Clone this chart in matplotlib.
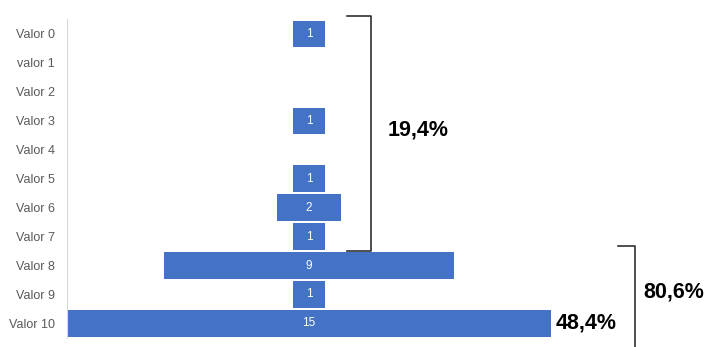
import numpy as np
import matplotlib.pyplot as plt

labels = ["Valor 0", "valor 1", "Valor 2", "Valor 3", "Valor 4", "Valor 5",
          "Valor 6", "Valor 7", "Valor 8", "Valor 9", "Valor 10"]
values = [1, 0, 0, 1, 0, 1, 2, 1, 9, 1, 15]
pct_top = "19,4%"
pct_bottom = "80,6%"
pct_last = "48,4%"

blue = "#4472C4"
vals = np.array(values, dtype=float)
y = np.arange(len(labels))
offset = (vals.max() - vals) / 2

fig = plt.figure(figsize=(7.06, 3.47), dpi=100)
ax = fig.add_axes([0.0945, 0.026, 0.686, 0.919])
ax.barh(y, vals, left=offset, height=0.9, color=blue)
for i, v in enumerate(values):
    if v > 0:
        ax.text(offset[i] + v / 2, i, str(v), ha="center", va="center",
                color="white", fontsize=8.5, family="Liberation Sans")

ax.set_xlim(0, vals.max())
ax.set_ylim(len(labels) - 0.5, -0.5)
ax.set_yticks(y)
ax.set_yticklabels(labels, color="#595959", fontsize=9, family="Liberation Sans")
ax.tick_params(left=False, bottom=False, labelbottom=False, pad=5)
for s in ["top", "right", "bottom"]:
    ax.spines[s].set_visible(False)
ax.spines["left"].set_color("#d9d9d9")

# brackets
kw = dict(color="#303030", lw=1.2, clip_on=False)
ax.plot([8.68, 9.42, 9.42, 8.68], [-0.62, -0.62, 7.51, 7.51], **kw)
ax.text(9.93, 3.32, pct_top, ha="left", va="center", fontsize=15.5,
        fontweight="bold", family="Liberation Sans", color="black")
ax.plot([17.07, 17.6, 17.6], [7.34, 7.34, 11.2], **kw)
ax.text(17.85, 8.93, pct_bottom, ha="left", va="center", fontsize=15.5,
        fontweight="bold", family="Liberation Sans", color="black")
ax.text(15.15, 9.97, pct_last, ha="left", va="center", fontsize=15.5,
        fontweight="bold", family="Liberation Sans", color="black")

fig.savefig("out.png", dpi=100)
